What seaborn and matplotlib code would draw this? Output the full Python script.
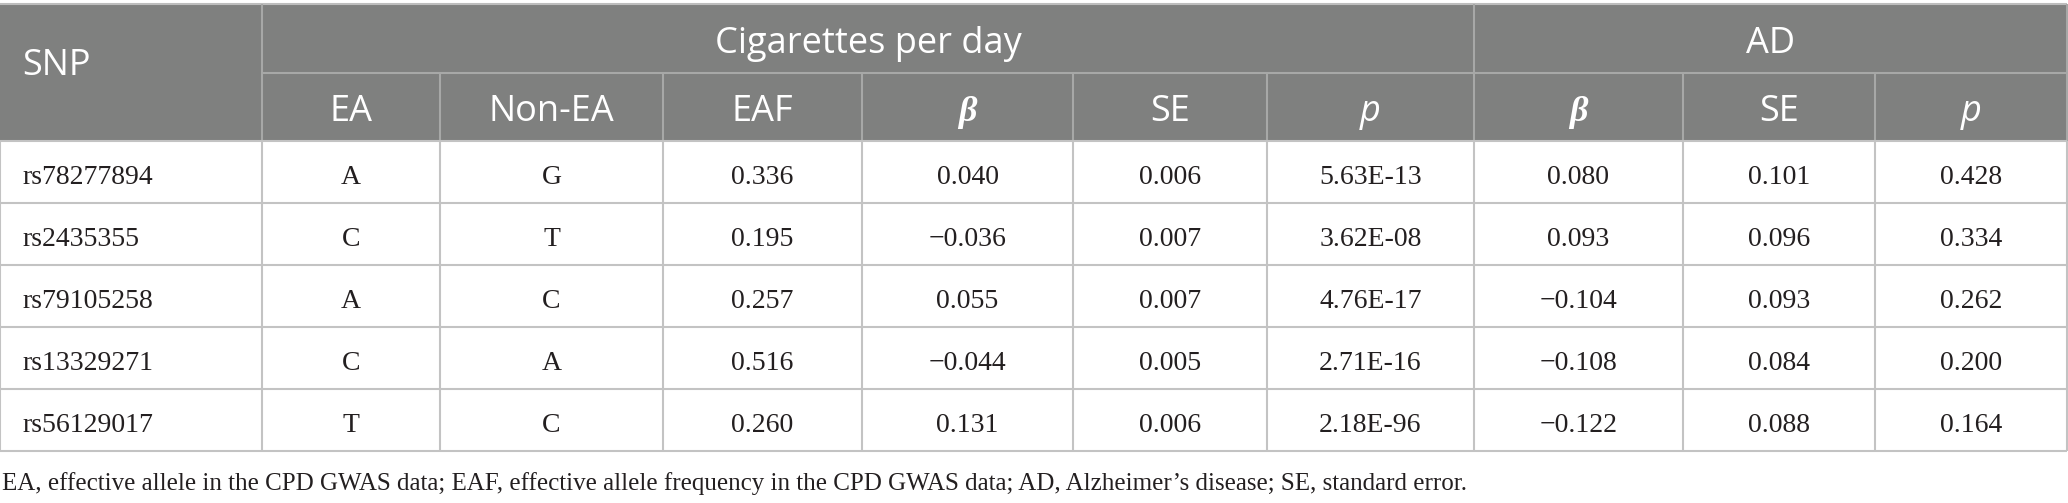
import numpy as np
import pandas as pd
import matplotlib
matplotlib.use("Agg")
import matplotlib.pyplot as plt
import seaborn as sns

# table content
snp = ["rs78277894", "rs2435355", "rs79105258", "rs13329271", "rs56129017"]
ea = ["A", "C", "A", "C", "T"]
non_ea = ["G", "T", "C", "A", "C"]
eaf = [0.336, 0.195, 0.257, 0.516, 0.260]
cpd_beta = [0.040, -0.036, 0.055, -0.044, 0.131]
cpd_se = [0.006, 0.007, 0.007, 0.005, 0.006]
cpd_p = [5.63e-13, 3.62e-08, 4.76e-17, 2.71e-16, 2.18e-96]
ad_beta = [0.080, 0.093, -0.104, -0.108, -0.122]
ad_se = [0.101, 0.096, 0.093, 0.084, 0.088]
ad_p = [0.428, 0.334, 0.262, 0.200, 0.164]

group_labels = ["Cigarettes per day", "AD"]
sub_labels = ["EA", "Non-EA", "EAF", "β", "SE", "p", "β", "SE", "p"]
footnote = ("EA, effective allele in the CPD GWAS data; EAF, effective allele frequency "
            "in the CPD GWAS data; AD, Alzheimer\u2019s disease; SE, standard error.")


def num(v):
    return f"{v:.3f}".replace("-", "\u2212")


df = pd.DataFrame({
    "SNP": snp, "EA": ea, "Non-EA": non_ea,
    "EAF": [num(v) for v in eaf],
    "b1": [num(v) for v in cpd_beta],
    "se1": [num(v) for v in cpd_se],
    "p1": [f"{v:.2E}" for v in cpd_p],
    "b2": [num(v) for v in ad_beta],
    "se2": [num(v) for v in ad_se],
    "p2": [num(v) for v in ad_p],
})

sns.set_theme(style="white")

W, H = 2068, 503
col_edges = [0, 262, 440, 663, 862, 1073, 1267, 1474, 1683, 1875, 2067]
top, mid, hdr_bot = 4, 73, 141
row_h = 62
head_fill = "#7f807f"
head_line = "#a7a8a7"
body_line = "#c3c3c3"
lw = 1.5

fig = plt.figure(figsize=(W / 100, H / 100), dpi=100)
ax = fig.add_axes([0, 0, 1, 1])
ax.set_xlim(0, W)
ax.set_ylim(H, 0)
ax.axis("off")

# header block
ax.add_patch(plt.Rectangle((0, top), col_edges[-1], hdr_bot - top, color=head_fill, lw=0))
ax.hlines(top, 0, col_edges[-1], color="#bdbdbd", lw=lw)
ax.hlines(mid, col_edges[1], col_edges[-1], color=head_line, lw=lw)
for x in [col_edges[1], col_edges[7]]:
    ax.vlines(x, top, hdr_bot, color=head_line, lw=lw)
for x in col_edges[2:7] + col_edges[8:10]:
    ax.vlines(x, mid, hdr_bot, color=head_line, lw=lw)
ax.vlines(col_edges[-1], top, hdr_bot, color=head_line, lw=lw)

sans = "Open Sans"
hs = 26
ax.text(22, 75, "SNP", color="white", fontsize=hs, family=sans, ha="left", va="baseline")
ax.text((col_edges[1] + col_edges[7]) / 2, 53, group_labels[0], color="white",
        fontsize=hs, family=sans, ha="center", va="baseline")
ax.text((col_edges[7] + col_edges[10]) / 2, 53, group_labels[1], color="white",
        fontsize=hs, family=sans, ha="center", va="baseline")
for i, lab in enumerate(sub_labels):
    cx = (col_edges[i + 1] + col_edges[i + 2]) / 2
    if lab == "β":
        ax.text(cx, 121, lab, color="white", fontsize=hs, family="Liberation Serif",
                style="italic", weight="bold", ha="center", va="baseline")
    elif lab == "p":
        ax.text(cx, 121, lab, color="white", fontsize=hs, family=sans,
                style="italic", ha="center", va="baseline")
    else:
        ax.text(cx, 121, lab, color="white", fontsize=hs, family=sans,
                ha="center", va="baseline")

# body
serif = "Liberation Serif"
bs = 20
n = len(df)
row_tops = [hdr_bot + k * row_h for k in range(n + 1)]
ax.hlines(row_tops, 0, col_edges[-1], color=body_line, lw=lw)
ax.vlines(col_edges, hdr_bot, row_tops[-1], color=body_line, lw=lw)

for r, (_, row) in enumerate(df.iterrows()):
    yb = row_tops[r] + 43
    ax.text(22, yb, row["SNP"], fontsize=bs, family=serif, color="#231f20",
            ha="left", va="baseline")
    for c, key in enumerate(df.columns[1:]):
        cx = (col_edges[c + 1] + col_edges[c + 2]) / 2
        ax.text(cx, yb, row[key], fontsize=bs, family=serif, color="#231f20",
                ha="center", va="baseline")

ax.text(2, 490, footnote, fontsize=18, family=serif, color="#231f20",
        ha="left", va="baseline")

fig.savefig("out.png", dpi=100)
